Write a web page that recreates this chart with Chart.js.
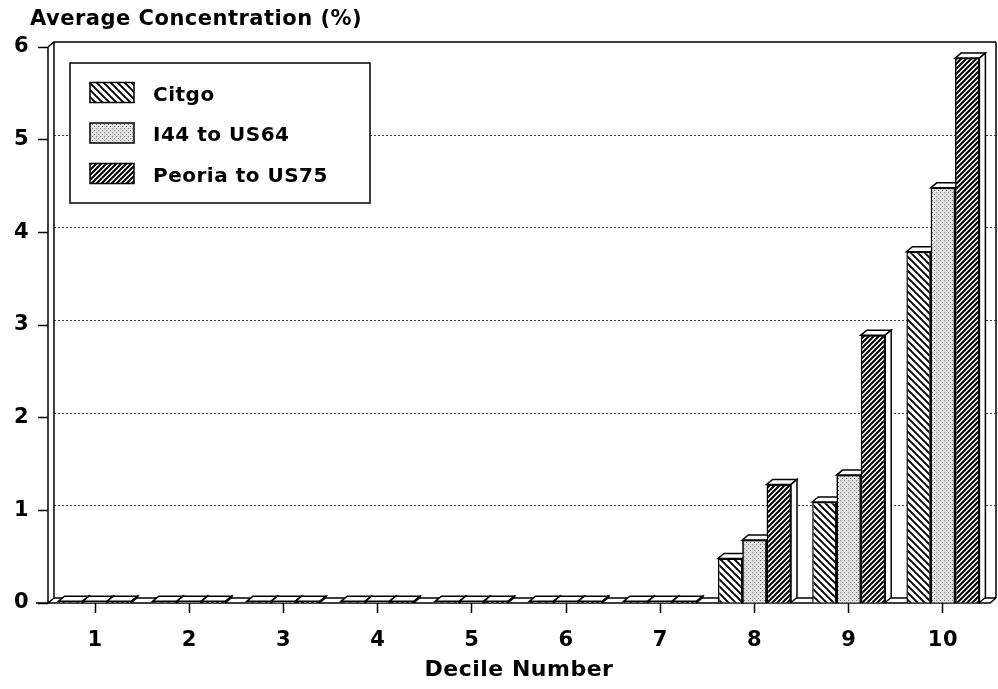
<!DOCTYPE html>
<html>
<head>
<meta charset="utf-8">
<script src="https://cdn.jsdelivr.net/npm/chart.js@4.4.0/dist/chart.umd.min.js"></script>
<style>
  html, body { margin: 0; padding: 0; background: #fff; }
  #wrap { position: relative; width: 998px; height: 689px; }
</style>
</head>
<body>
<div id="wrap"><canvas id="chart"></canvas></div>
<script>
// Average concentration by decile, three road segments
const deciles = ['1', '2', '3', '4', '5', '6', '7', '8', '9', '10'];
const citgo   = [0.02, 0.02, 0.02, 0.02, 0.02, 0.02, 0.02, 0.48, 1.09, 3.79];
const i44     = [0.02, 0.02, 0.02, 0.02, 0.02, 0.02, 0.02, 0.68, 1.38, 4.48];
const peoria  = [0.02, 0.02, 0.02, 0.02, 0.02, 0.02, 0.02, 1.28, 2.89, 5.88];
const seriesNames = ['Citgo', 'I44 to US64', 'Peoria to US75'];
const yTicks = [0, 1, 2, 3, 4, 5, 6];

const FONT = '"DejaVu Sans", "Liberation Sans", Arial, sans-serif';
const SPACING = '0.5px';
const DX = 6, DY = -5;   // depth of the fake 3d

function makePattern(kind) {
    const c = document.createElement('canvas');
    const s = kind === 'back' ? 7 : (kind === 'fwd' ? 5 : 4);
    c.width = s; c.height = s;
    const g = c.getContext('2d');
    g.fillStyle = kind === 'dots' ? '#e2e2e2' : '#fff';
    g.fillRect(0, 0, s, s);
    if (kind === 'dots') {
        g.fillStyle = '#707070';
        g.fillRect(0, 0, 1, 1);
        g.fillRect(2, 2, 1, 1);
        return g.createPattern(c, 'repeat');
    }
    g.strokeStyle = '#000';
    g.lineWidth = kind === 'back' ? 1.9 : 2.0;
    g.beginPath();
    if (kind === 'back') {
        g.moveTo(0, 0); g.lineTo(s, s);
        g.moveTo(-1, s - 1); g.lineTo(1, s + 1);
        g.moveTo(s - 1, -1); g.lineTo(s + 1, 1);
    } else {
        g.moveTo(0, s); g.lineTo(s, 0);
        g.moveTo(-1, 1); g.lineTo(1, -1);
        g.moveTo(s - 1, s + 1); g.lineTo(s + 1, s - 1);
    }
    g.stroke();
    return g.createPattern(c, 'repeat');
}

const fills = [makePattern('back'), makePattern('dots'), makePattern('fwd')];

function drawFaces(ctx, el) {
    const p = el.getProps(['x', 'y', 'base', 'width'], true);
    const l = p.x - p.width / 2, r = p.x + p.width / 2;
    ctx.fillStyle = '#fff';
    ctx.strokeStyle = '#000';
    ctx.lineWidth = 1.5;
    ctx.beginPath();
    ctx.moveTo(l, p.y); ctx.lineTo(l + DX, p.y + DY);
    ctx.lineTo(r + DX, p.y + DY); ctx.lineTo(r, p.y); ctx.closePath();
    ctx.fill(); ctx.stroke();
    ctx.beginPath();
    ctx.moveTo(r, p.y); ctx.lineTo(r + DX, p.y + DY);
    ctx.lineTo(r + DX, p.base + DY); ctx.lineTo(r, p.base); ctx.closePath();
    ctx.fill(); ctx.stroke();
}

const box3d = {
    id: 'box3d',
    beforeDraw(chart) {
        chart.ctx.letterSpacing = SPACING;
    },
    beforeDatasetsDraw(chart) {
        const ctx = chart.ctx, ca = chart.chartArea, ys = chart.scales.y;
        const rightWall = ca.right + DX;
        ctx.save();
        // dotted gridlines on the back wall
        ctx.strokeStyle = '#444';
        ctx.lineWidth = 1;
        ctx.setLineDash([2, 2]);
        ys.ticks.forEach(t => {
            if (t.value === 0 || t.value === 6) return;
            const y = Math.round(ys.getPixelForValue(t.value) + DY) + 0.5;
            ctx.beginPath();
            ctx.moveTo(ca.left + DX, y); ctx.lineTo(rightWall, y);
            ctx.stroke();
        });
        ctx.setLineDash([]);
        // walls and floor
        ctx.strokeStyle = '#000';
        ctx.lineWidth = 1.5;
        ctx.beginPath();
        ctx.moveTo(ca.left, ca.top); ctx.lineTo(ca.left + DX, ca.top + DY);
        ctx.lineTo(rightWall, ca.top + DY);
        ctx.moveTo(ca.left, ca.top); ctx.lineTo(ca.left, ca.bottom);
        ctx.moveTo(ca.left + DX, ca.top + DY); ctx.lineTo(ca.left + DX, ca.bottom + DY);
        ctx.moveTo(rightWall, ca.top + DY); ctx.lineTo(rightWall, ca.bottom + DY);
        ctx.moveTo(ca.left + DX, ca.bottom + DY); ctx.lineTo(rightWall, ca.bottom + DY);
        ctx.moveTo(ca.left - 12, ca.bottom); ctx.lineTo(ca.right, ca.bottom);
        ctx.lineTo(rightWall, ca.bottom + DY);
        ctx.moveTo(ca.left, ca.bottom); ctx.lineTo(ca.left + DX, ca.bottom + DY);
        ctx.stroke();
        ctx.restore();
    },
    afterDatasetsDraw(chart) {
        const ctx = chart.ctx;
        const metas = chart.data.datasets.map((d, j) => chart.getDatasetMeta(j));
        ctx.save();
        deciles.forEach((d, i) => {
            metas.forEach((m, j) => {
                if (j > 0) m.data[i].draw(ctx);
                drawFaces(ctx, m.data[i]);
            });
        });
        ctx.restore();
    },
    afterDraw(chart) {
        const ctx = chart.ctx;
        ctx.save();
        ctx.letterSpacing = SPACING;
        // axis title on top
        ctx.fillStyle = '#000';
        ctx.font = 'bold 21px ' + FONT;
        ctx.textBaseline = 'middle';
        ctx.textAlign = 'left';
        ctx.fillText('Average Concentration (%)', 30, 20);
        // legend box
        ctx.fillStyle = '#fff';
        ctx.fillRect(70, 63, 300, 140);
        ctx.strokeStyle = '#000';
        ctx.lineWidth = 1.5;
        ctx.strokeRect(70, 63, 300, 140);
        ctx.font = 'bold 20px ' + FONT;
        seriesNames.forEach((name, j) => {
            const yc = 92.5 + j * 40.5;
            ctx.fillStyle = fills[j];
            ctx.fillRect(90, yc - 10, 44, 20);
            ctx.strokeRect(90, yc - 10, 44, 20);
            ctx.fillStyle = '#000';
            ctx.fillText(name, 153, yc + 3);
        });
        ctx.restore();
    }
};

const series = [citgo, i44, peoria];

new Chart(document.getElementById('chart'), {
    type: 'bar',
    data: {
        labels: deciles,
        datasets: series.map((vals, j) => ({
            label: seriesNames[j],
            data: vals,
            backgroundColor: fills[j],
            borderColor: '#000',
            borderWidth: 1.5,
            barPercentage: 1.0,
            categoryPercentage: 0.775
        }))
    },
    options: {
        responsive: true,
        maintainAspectRatio: false,
        animation: false,
        layout: { padding: { top: 47, right: 8, left: 0, bottom: 0 } },
        plugins: {
            legend: { display: false },
            tooltip: { enabled: false },
            title: { display: false }
        },
        scales: {
            x: {
                afterFit: s => { s.height = 86; },
                border: { display: false },
                grid: {
                    offset: false,
                    drawOnChartArea: false,
                    tickLength: 10,
                    tickColor: '#000',
                    tickWidth: 1.5
                },
                ticks: {
                    color: '#000',
                    padding: 15,
                    font: { family: FONT, size: 21, weight: 'bold' }
                },
                title: {
                    display: true,
                    text: 'Decile Number',
                    color: '#000',
                    padding: { top: 0, bottom: 6 },
                    font: { family: FONT, size: 22, weight: 'bold' }
                }
            },
            y: {
                min: 0,
                max: 6,
                afterFit: s => { s.width = 48; },
                afterBuildTicks: s => { s.ticks = yTicks.map(v => ({ value: v })); },
                border: { display: false },
                grid: {
                    drawOnChartArea: false,
                    tickLength: 10,
                    tickColor: '#000',
                    tickWidth: 1.5
                },
                ticks: {
                    color: '#000',
                    padding: 9,
                    font: { family: FONT, size: 21, weight: 'bold' }
                }
            }
        }
    },
    plugins: [box3d]
});
</script>
</body>
</html>
